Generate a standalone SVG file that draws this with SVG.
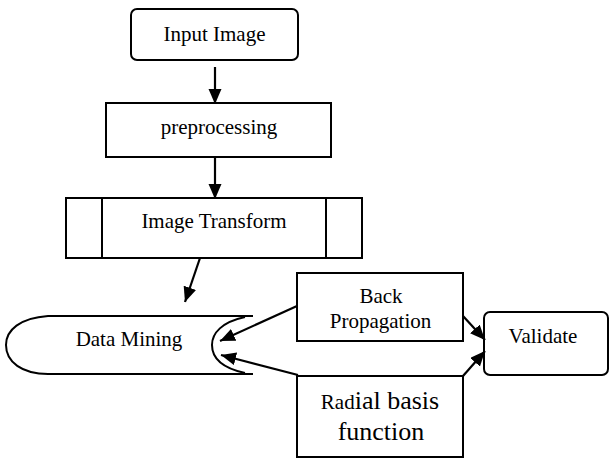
<svg xmlns="http://www.w3.org/2000/svg" width="610" height="459" viewBox="0 0 610 459">
  <defs>
    <marker id="arrow" markerUnits="userSpaceOnUse" markerWidth="16" markerHeight="14" refX="15" refY="6.5" orient="auto">
      <path d="M0,0 L15,6.5 L0,13 z" fill="#000"/>
    </marker>
    <style>
      .box { fill: #fff; stroke: #000; stroke-width: 2; }
      .line { fill: none; stroke: #000; stroke-width: 2; }
      .conn { fill: none; stroke: #000; stroke-width: 2.2; marker-end: url(#arrow); }
      text { font-family: 'Liberation Serif', 'DejaVu Serif', serif; font-size: 21px; fill: #000; text-anchor: middle; }
      .big { font-size: 26px; }
    </style>
  </defs>
  <rect width="610" height="459" fill="#fff"/>

  <g id="input-image">
    <rect class="box" x="131" y="9" width="167" height="51" rx="6"/>
    <text x="214.5" y="41">Input Image</text>
  </g>

  <g id="preprocessing">
    <rect class="box" x="106" y="103" width="225" height="54"/>
    <text x="219" y="134">preprocessing</text>
  </g>

  <g id="image-transform">
    <rect class="box" x="66" y="198" width="296" height="60"/>
    <line class="line" x1="102" y1="198" x2="102" y2="258"/>
    <line class="line" x1="326" y1="198" x2="326" y2="258"/>
    <text x="214" y="228">Image Transform</text>
  </g>

  <g id="data-mining">
    <path class="line" d="M253,316 L48,316 C20,318 6,330 6,345 C6,362 22,374 48,374 L253,374"/>
    <path class="line" d="M245,317 C222,322 212,333 212,345 C212,358 222,368 245,373"/>
    <text x="129" y="346">Data Mining</text>
  </g>

  <g id="back-propagation">
    <rect class="box" x="297" y="273" width="166" height="68"/>
    <text x="381" y="303">Back</text>
    <text x="380.5" y="328">Propagation</text>
  </g>

  <g id="radial-basis">
    <rect class="box" x="297" y="376" width="166" height="81"/>
    <text x="380" y="409">Rad<tspan class="big">ial basis</tspan></text>
    <text class="big" x="381" y="440">function</text>
  </g>

  <g id="validate">
    <rect class="box" x="484" y="312" width="124" height="63" rx="6"/>
    <text x="543" y="343">Validate</text>
  </g>

  <g id="connectors">
    <line class="conn" x1="215" y1="67" x2="215" y2="104"/>
    <line class="conn" x1="215" y1="157" x2="215" y2="199"/>
    <line class="conn" x1="200" y1="258" x2="185" y2="302"/>
    <line class="conn" x1="297" y1="306" x2="220" y2="341"/>
    <line class="conn" x1="298" y1="375" x2="221" y2="355"/>
    <line class="conn" x1="463" y1="316" x2="485" y2="340"/>
    <line class="conn" x1="463" y1="376" x2="485" y2="351"/>
  </g>
</svg>
